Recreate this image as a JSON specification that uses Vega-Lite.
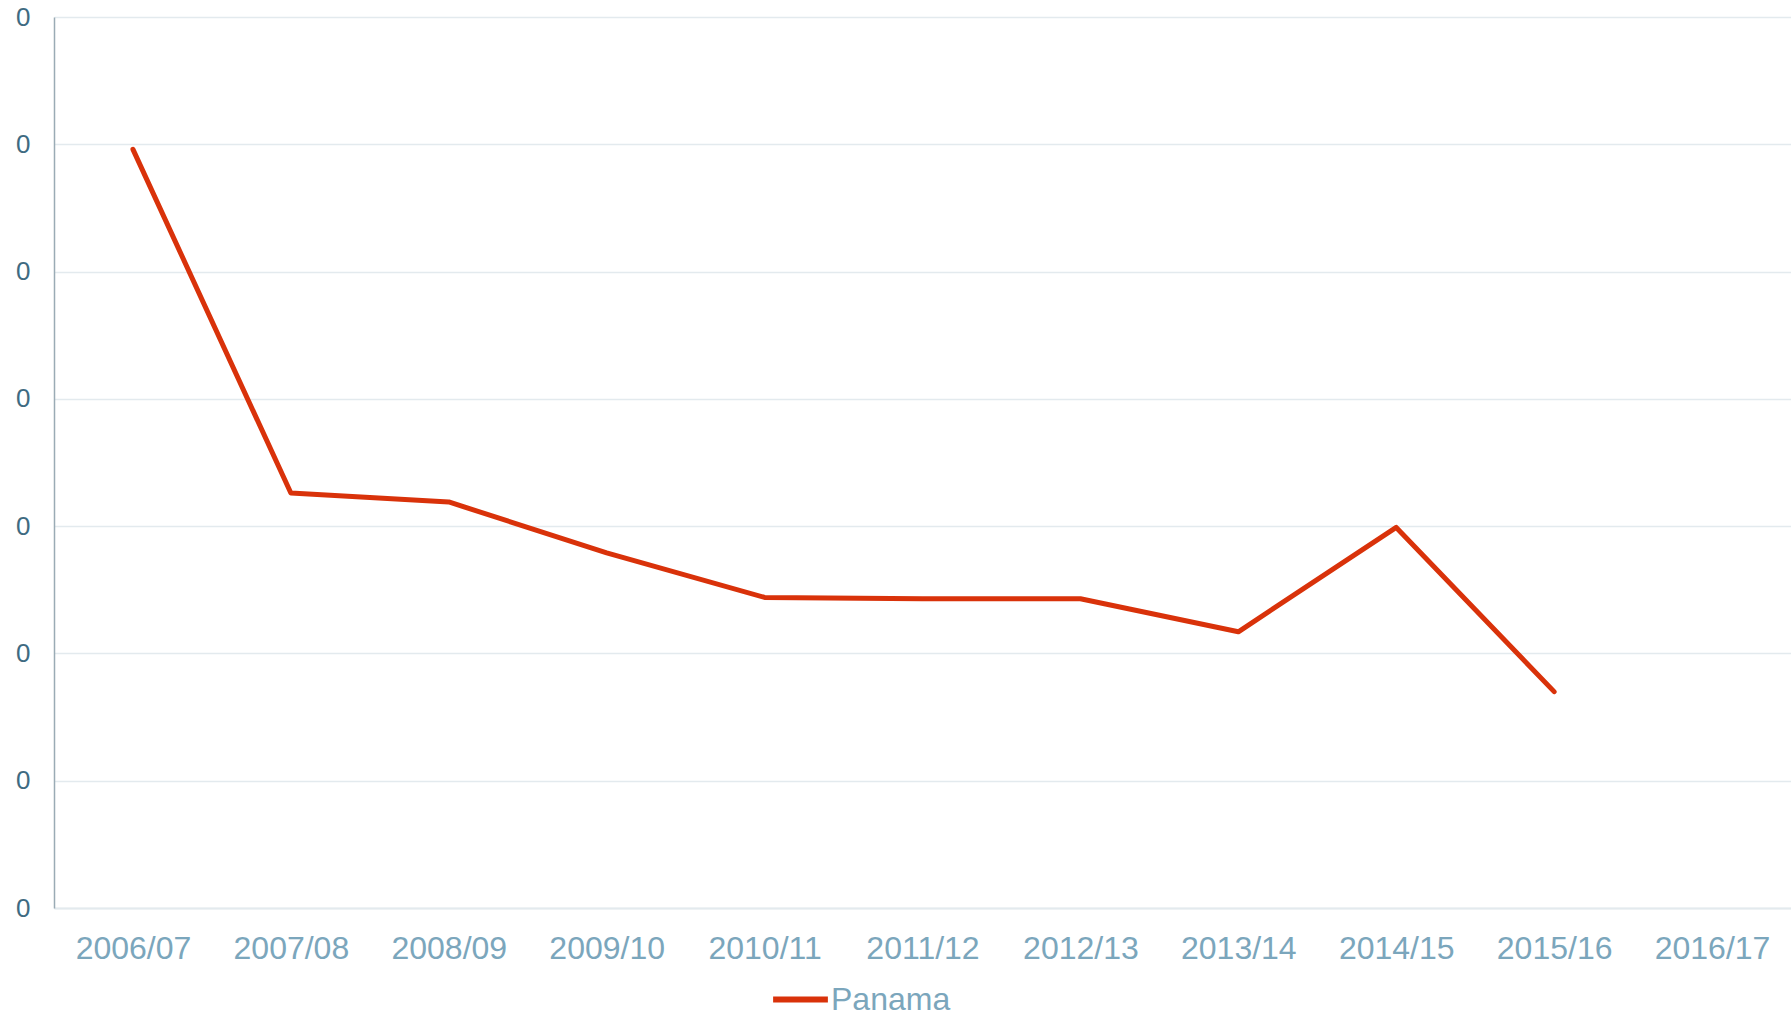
{
  "$schema": "https://vega.github.io/schema/vega-lite/v6.json",
  "autosize": {"type": "none"},
  "width": 1737,
  "height": 891,
  "padding": {"left": 54, "top": 17, "right": 0, "bottom": 110},
  "background": "white",
  "config": {
    "view": {"stroke": null},
    "font": "Liberation Sans"
  },
  "data": {
    "values": [
      {"year": "2006/07", "value": 0.00596, "country": "Panama"},
      {"year": "2007/08", "value": 0.00326, "country": "Panama"},
      {"year": "2008/09", "value": 0.00319, "country": "Panama"},
      {"year": "2009/10", "value": 0.00279, "country": "Panama"},
      {"year": "2010/11", "value": 0.00244, "country": "Panama"},
      {"year": "2011/12", "value": 0.00243, "country": "Panama"},
      {"year": "2012/13", "value": 0.00243, "country": "Panama"},
      {"year": "2013/14", "value": 0.00217, "country": "Panama"},
      {"year": "2014/15", "value": 0.00299, "country": "Panama"},
      {"year": "2015/16", "value": 0.00170, "country": "Panama"},
      {"year": "2016/17", "value": null, "country": "Panama"}
    ]
  },
  "mark": {"type": "line", "strokeWidth": 5, "strokeCap": "round", "strokeJoin": "round"},
  "encoding": {
    "x": {
      "field": "year",
      "type": "ordinal",
      "scale": {
        "type": "point",
        "padding": 0.5,
        "domain": ["2006/07","2007/08","2008/09","2009/10","2010/11","2011/12","2012/13","2013/14","2014/15","2015/16","2016/17"]
      },
      "axis": {
        "title": null,
        "labelAngle": 0,
        "labelFontSize": 32,
        "labelColor": "#7ba6bc",
        "labelPadding": 25,
        "ticks": false,
        "grid": false,
        "domainColor": "#e3eaee",
        "domainWidth": 2
      }
    },
    "y": {
      "field": "value",
      "type": "quantitative",
      "scale": {"domain": [0, 0.007], "nice": false, "zero": true},
      "axis": {
        "title": null,
        "values": [0, 0.001, 0.002, 0.003, 0.004, 0.005, 0.006, 0.007],
        "format": ".0f",
        "labelFontSize": 26,
        "labelColor": "#3e6b82",
        "labelPadding": 24,
        "ticks": false,
        "grid": true,
        "gridColor": "#e3eaee",
        "gridWidth": 1.5,
        "domainColor": "#9aabb5",
        "domainWidth": 1.5
      }
    },
    "color": {
      "field": "country",
      "type": "nominal",
      "scale": {"range": ["#d9320a"]},
      "legend": {
        "title": null,
        "orient": "none",
        "legendX": 716,
        "legendY": 952,
        "symbolType": "stroke",
        "symbolStrokeWidth": 6,
        "symbolSize": 3000,
        "labelFontSize": 32,
        "labelColor": "#7ba6bc",
        "labelOffset": 0
      }
    }
  }
}
